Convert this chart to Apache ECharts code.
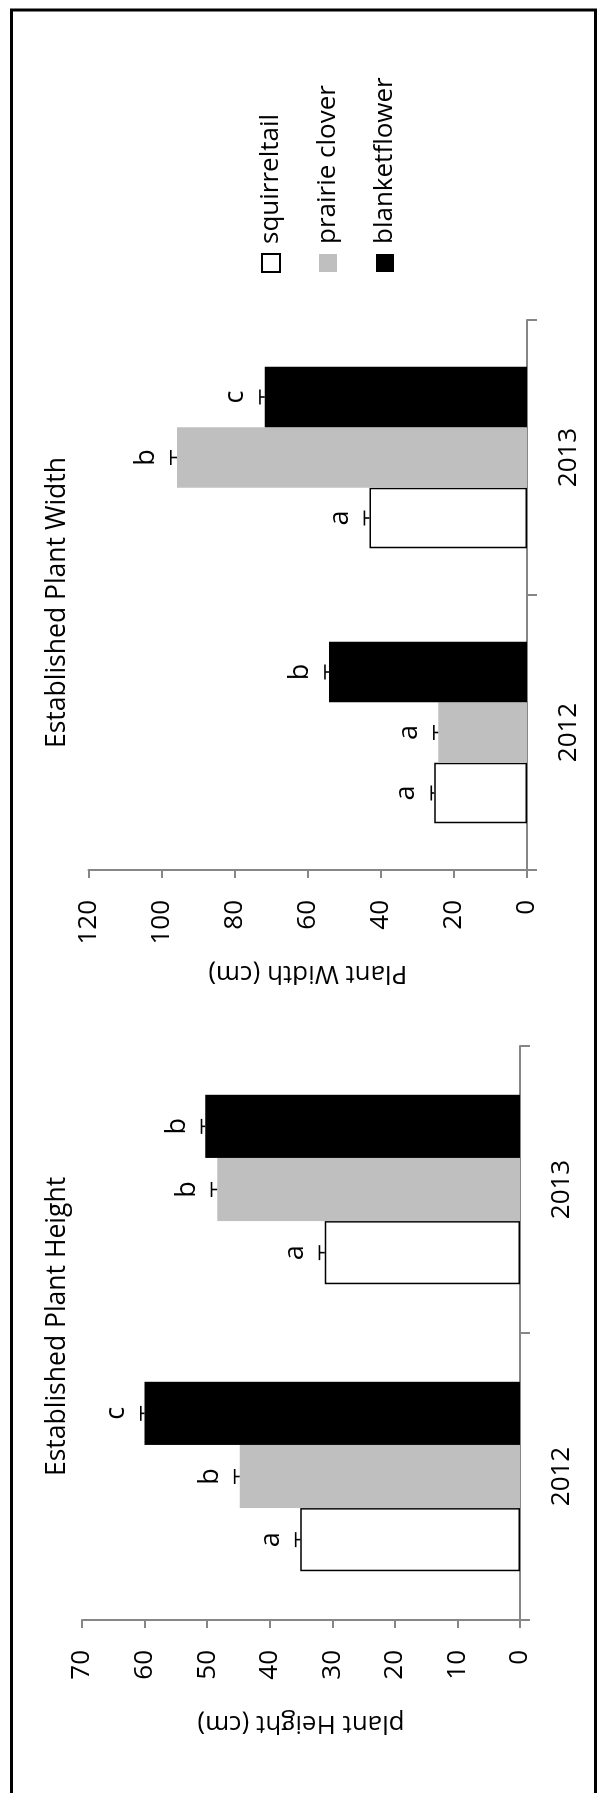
<!DOCTYPE html>
<html>
<head>
<meta charset="utf-8">
<script src="https://cdn.jsdelivr.net/npm/echarts@6/dist/echarts.min.js"></script>
<style>
  html, body { margin: 0; padding: 0; background: #fff; overflow: hidden; width: 599px; height: 1793px; }
  /* The figure is laid out landscape and turned a quarter turn counter-clockwise */
  #chart { position: absolute; left: 0; top: 0; width: 1793px; height: 599px;
           transform-origin: 0 0; transform: translate(0, 1793px) rotate(-90deg); }
</style>
</head>
<body>
<div id="chart"></div>
<script>
// ---- data ----
const years = ['2012', '2013'];
const speciesNames = ['squirreltail', 'prairie clover', 'blanketflower'];
const speciesColors = ['#ffffff', '#bfbfbf', '#000000'];

// Established plant height (cm)
const heightSquirreltail = [35.1, 31.2];
const heightPrairieClover = [44.8, 48.4];
const heightBlanketflower = [60.0, 50.3];
const heightErrSquirreltail = [0.75, 0.85];
const heightErrPrairieClover = [0.8, 0.9];
const heightErrBlanketflower = [0.6, 0.6];
const heightLettersSquirreltail = ['a', 'a'];
const heightLettersPrairieClover = ['b', 'b'];
const heightLettersBlanketflower = ['c', 'b'];

// Established plant width (cm)
const widthSquirreltail = [25.4, 43.1];
const widthPrairieClover = [24.3, 95.8];
const widthBlanketflower = [54.2, 71.8];
const widthErrSquirreltail = [0.8, 1.4];
const widthErrPrairieClover = [1.2, 1.7];
const widthErrBlanketflower = [1.1, 1.3];
const widthLettersSquirreltail = ['a', 'a'];
const widthLettersPrairieClover = ['a', 'b'];
const widthLettersBlanketflower = ['b', 'c'];

// value-axis ranges
const heightAxis = { min: 0, max: 70, interval: 10 };
const widthAxis = { min: 0, max: 120, interval: 20 };

// ---- styling ----
const FONT = 'Open Sans';
const AXIS_GRAY = '#868686';
const CAT_GAP = 0.34;

const panels = [
  {
    title: 'Established Plant Height', yName: 'plant Height (cm)', axis: heightAxis,
    means: [heightSquirreltail, heightPrairieClover, heightBlanketflower],
    errs: [heightErrSquirreltail, heightErrPrairieClover, heightErrBlanketflower],
    letters: [heightLettersSquirreltail, heightLettersPrairieClover, heightLettersBlanketflower],
    grid: { left: 173, top: 82, width: 574, height: 438 },
    titlePos: { left: 317, top: 44 }
  },
  {
    title: 'Established Plant Width', yName: 'Plant Width (cm)', axis: widthAxis,
    means: [widthSquirreltail, widthPrairieClover, widthBlanketflower],
    errs: [widthErrSquirreltail, widthErrPrairieClover, widthErrBlanketflower],
    letters: [widthLettersSquirreltail, widthLettersPrairieClover, widthLettersBlanketflower],
    grid: { left: 923, top: 88.6, width: 550, height: 438.4 },
    titlePos: { left: 1045, top: 44 }
  }
];

const axisLineStyle = { color: AXIS_GRAY, width: 2 };
const textBase = { color: '#000', fontFamily: FONT, fontSize: 26 };

const grids = [], xAxes = [], yAxes = [], titles = [], series = [];

panels.forEach((p, gi) => {
  grids.push(Object.assign({ containLabel: false }, p.grid));
  titles.push({
    text: p.title, left: p.titlePos.left, top: p.titlePos.top, padding: 0,
    textStyle: Object.assign({}, textBase, { fontWeight: 'normal', fontSize: 26.5 })
  });
  xAxes.push({
    type: 'category', gridIndex: gi, data: years,
    axisLine: { show: true, lineStyle: axisLineStyle },
    axisTick: { show: true, length: 10, lineStyle: axisLineStyle },
    axisLabel: Object.assign({ margin: 29 }, textBase)
  });
  yAxes.push({
    type: 'value', gridIndex: gi,
    min: p.axis.min, max: p.axis.max, interval: p.axis.interval,
    axisLine: { show: true, lineStyle: axisLineStyle },
    axisTick: { show: true, length: 8, lineStyle: axisLineStyle },
    splitLine: { show: false },
    axisLabel: Object.assign({ margin: 30 }, textBase),
    name: p.yName, nameLocation: 'middle', nameGap: 90,
    nameTextStyle: Object.assign({}, textBase)
  });

  p.means.forEach((vals, k) => {
    series.push({
      type: 'bar', name: speciesNames[k], xAxisIndex: gi, yAxisIndex: gi,
      data: vals, barGap: '0%', barCategoryGap: (CAT_GAP * 100) + '%',
      itemStyle: k === 0
        ? { color: speciesColors[k], borderColor: '#000', borderWidth: 1.5 }
        : { color: speciesColors[k] },
      emphasis: { disabled: true }, animation: false
    });
  });

  // plus-only error bars with the significance letter above each cap
  p.means.forEach((vals, k) => {
    const letters = p.letters[k];
    series.push({
      type: 'custom', xAxisIndex: gi, yAxisIndex: gi, animation: false, z: 5,
      data: vals.map((v, i) => [i, v, p.errs[k][i]]),
      renderItem: function (params, api) {
        const cat = api.value(0), mean = api.value(1), err = api.value(2);
        const band = api.size([1, 0])[0];
        const barW = band * (1 - CAT_GAP) / 3;
        const base = api.coord([cat, mean]);
        const tip = api.coord([cat, mean + err]);
        const x = base[0] + (k - 1) * barW;
        const stroke = { stroke: '#000', lineWidth: 1.6 };
        return {
          type: 'group',
          children: [
            { type: 'line', shape: { x1: x, y1: base[1], x2: x, y2: tip[1] }, style: stroke },
            { type: 'line', shape: { x1: x - 7.5, y1: tip[1], x2: x + 7.5, y2: tip[1] }, style: stroke },
            { type: 'text', style: {
                text: letters[params.dataIndex], x: x, y: tip[1] - 11,
                align: 'center', verticalAlign: 'bottom',
                fontSize: 27, fontFamily: FONT, fill: '#000' } }
          ]
        };
      }
    });
  });
});

const chart = echarts.init(document.getElementById('chart'), null, { renderer: 'canvas' });
chart.setOption({
  backgroundColor: '#fff',
  animation: false,
  title: titles,
  grid: grids,
  xAxis: xAxes,
  yAxis: yAxes,
  legend: {
    data: speciesNames, orient: 'vertical', left: 1520, top: 258, padding: 0,
    icon: 'rect', itemWidth: 18, itemHeight: 18, itemGap: 31,
    selectedMode: false,
    textStyle: Object.assign({ padding: [0, 0, 0, 5] }, textBase)
  },
  graphic: [{
    type: 'rect', silent: true, z: 100,
    shape: { x: -20, y: 11.5, width: 1803, height: 584 },
    style: { fill: 'none', stroke: '#000', lineWidth: 3 }
  }],
  series: series
});
</script>
</body>
</html>
